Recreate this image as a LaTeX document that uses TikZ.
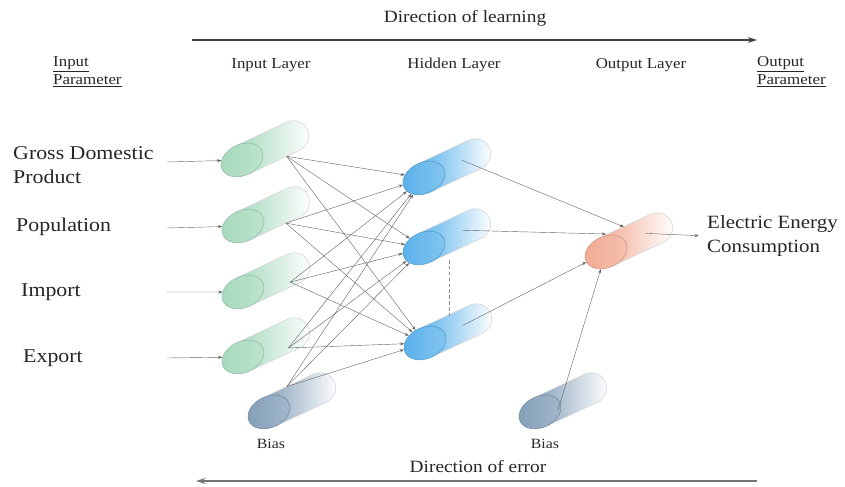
\documentclass[tikz,border=0pt]{standalone}
\usepackage{fontspec}
\setmainfont{Liberation Serif}[FakeStretch=1.12]
\usepackage{xcolor}
\usetikzlibrary{arrows.meta,shapes.geometric}

\definecolor{inpgreen}{RGB}{165,217,188}
\definecolor{hidblue}{RGB}{88,176,234}
\definecolor{outsalmon}{RGB}{241,170,146}
\definecolor{biasgray}{RGB}{130,158,184}
\definecolor{wiregray}{RGB}{100,100,100}

\begin{document}
\begin{tikzpicture}[x=0.85pt,y=-0.85pt,
  text=black!85,
  font=\fontsize{12.8}{15.5}\selectfont,
  link/.style={draw=wiregray, line width=0.35pt, -{Stealth[length=3.6pt,width=2.6pt]}},
  flow/.style={line width=1pt, -{Stealth[length=8pt,width=5pt]}},
  bigtext/.style={font=\fontsize{16.6}{20.5}\selectfont, align=left, anchor=west, inner sep=0pt},
  partext/.style={align=left, anchor=west, inner sep=0pt},
  pics/neuron/.style 2 args={code={
    \begin{scope}[rotate=25]
      \shade[left color=#1, middle color=#1!30!white, right color=white, draw=black!16, line width=0.5pt]
        (0,-15.5) -- (56,-15.5)
        arc[start angle=-90, end angle=90, x radius=16, y radius=15.5]
        -- (0,15.5) -- cycle;
      \coordinate (-out) at (#2);
    \end{scope}
    \node[ellipse, rotate=25, minimum width=37.4pt, minimum height=26.4pt, inner sep=0pt,
      left color=#1, right color=#1!72!white, draw=#1!85!black, line width=0.4pt] (-face) at (0,0) {};
  }},
]
\useasboundingbox (0,0) rectangle (845,486);

% headings
\node[font=\fontsize{14.7}{17}\selectfont] (learn) at (465,18) {Direction of learning};
\coordinate (learn-a) at (192,40);
\coordinate (learn-b) at (757,40);
\draw[flow, draw=black!75] (learn-a) -- (learn-b);

\node[partext] (inpar) at (53,72) {\underline{Input}\\\underline{Parameter}};
\node (lay1) at (271,65) {Input Layer};
\node (lay2) at (454,65) {Hidden Layer};
\node (lay3) at (641,65) {Output Layer};
\node[partext] (outpar) at (757,72) {\underline{Output}\\\underline{Parameter}};

% neurons
\pic (in1) at (242,160) {neuron={inpgreen}{42,15.5}};
\pic (in2) at (243,226) {neuron={inpgreen}{40,15.5}};
\pic (in3) at (243,292) {neuron={inpgreen}{47,11}};
\pic (in4) at (243,357) {neuron={inpgreen}{45,11}};
\pic (bias1) at (269,412) {neuron={biasgray}{27,-15.5}};
\pic (hid1) at (424,178) {neuron={hidblue}{42,0}};
\pic (hid2) at (424,248) {neuron={hidblue}{42,0}};
\pic (hid3) at (425,343) {neuron={hidblue}{42,0}};
\pic (outp) at (606,252) {neuron={outsalmon}{44,0}};
\pic (bias2) at (540,412) {neuron={biasgray}{17,6}};

% input values
\node[bigtext] (gdp) at (13,165) {Gross Domestic\\Product};
\node[bigtext] (pop) at (16,227) {Population};
\node[bigtext] (imp) at (21,292) {Import};
\node[bigtext] (exp) at (23,358) {Export};
\foreach \n/\y in {1/162,2/228,3/292,4/358} {
  \coordinate (src\n) at (167,\y);
  \draw[link] (src\n) -- (in\n-face);
}

% input layer to hidden layer
\foreach \i in {in1,in2,in3,in4,bias1} {
  \foreach \h in {hid1,hid2,hid3} { \draw[link] (\i-out) -- (\h-face); }
}
\coordinate (gap-a) at (449,260);
\coordinate (gap-b) at (449,318);
\draw[densely dashed, draw=black!45, line width=0.5pt] (gap-a) -- (gap-b);

% hidden layer to output
\coordinate (outp-a) at (624,227);
\coordinate (outp-b) at (606,234);
\draw[link] (hid1-out) -- (outp-a);
\draw[link] (hid2-out) -- (outp-b);
\draw[link] (hid3-out) -- (outp-face);
\draw[link] (bias2-out) -- (outp-face);

\node[bigtext, font=\fontsize{15.9}{21}\selectfont] (eec) at (707,236) {Electric Energy\\Consumption};
\draw[link] (outp-out) -- (eec.west) [shorten >=7pt];

\node[font=\fontsize{12}{14}\selectfont] (blab1) at (271,444) {Bias};
\node[font=\fontsize{12}{14}\selectfont] (blab2) at (545,444) {Bias};

% error flow
\node[font=\fontsize{14.7}{17}\selectfont] (err) at (478,466) {Direction of error};
\coordinate (err-a) at (757,481);
\coordinate (err-b) at (196,481);
\draw[flow, draw=black!55, line width=1.5pt] (err-a) -- (err-b);
\end{tikzpicture}
\end{document}
